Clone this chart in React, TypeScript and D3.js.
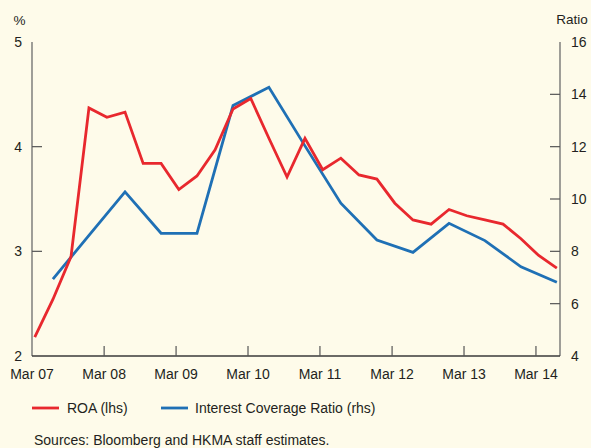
import React from "react";
import * as d3 from "d3";

// Quarterly ROA (%), Mar 07 .. Jun 14
const roaDates: string[] = [
  "2007-03", "2007-06", "2007-09", "2007-12",
  "2008-03", "2008-06", "2008-09", "2008-12",
  "2009-03", "2009-06", "2009-09", "2009-12",
  "2010-03", "2010-06", "2010-09", "2010-12",
  "2011-03", "2011-06", "2011-09", "2011-12",
  "2012-03", "2012-06", "2012-09", "2012-12",
  "2013-03", "2013-06", "2013-09", "2013-12",
  "2014-03", "2014-06",
];
const roaValues: number[] = [
  2.18, 2.54, 2.95, 4.37, 4.28, 4.33, 3.84, 3.84, 3.59, 3.72,
  3.97, 4.36, 4.46, 4.08, 3.71, 4.08, 3.78, 3.89, 3.73, 3.69,
  3.46, 3.30, 3.26, 3.40, 3.34, 3.30, 3.26, 3.12, 2.96, 2.84,
];

// Semi-annual interest coverage ratio, Jun 07 .. Jun 14
const icrDates: string[] = [
  "2007-06", "2007-12", "2008-06", "2008-12", "2009-06", "2009-12",
  "2010-06", "2010-12", "2011-06", "2011-12", "2012-06", "2012-12",
  "2013-06", "2013-12", "2014-06",
];
const icrValues: number[] = [
  6.94, 8.61, 10.27, 8.69, 8.69, 13.57, 14.27, 12.03, 9.84, 8.43,
  7.96, 9.07, 8.41, 7.41, 6.82,
];

const xTickDates: string[] = ["2007-03", "2008-03", "2009-03", "2010-03", "2011-03", "2012-03", "2013-03", "2014-03"];
const leftTicks: number[] = [2, 3, 4, 5];
const rightTicks: number[] = [4, 6, 8, 10, 12, 14, 16];

const seriesNames = ["ROA (lhs)", "Interest Coverage Ratio (rhs)"];
const leftUnit = "%";
const rightUnit = "Ratio";
const sourceText = "Sources: Bloomberg and HKMA staff estimates.";

const W = 591;
const H = 448;
const X0 = 32;
const X1 = 560;
const Y0 = 356;
const Y1 = 42;
const RED = "#E8282E";
const BLUE = "#1F70B5";
const TEXT = "#231F20";
const BG = "#FEFBEA";
const FONT = "'Liberation Sans', Arial, Helvetica, sans-serif";
const FS = 14;

const parseM = d3.utcParse("%Y-%m");
const mid = (s: string) => d3.utcDay.offset(parseM(s) as Date, 14);
const first = (s: string) => parseM(s) as Date;

export default function App() {
  const x = d3.scaleUtc().domain([first("2007-03"), first("2014-07")]).range([X0, X1]);
  const yL = d3.scaleLinear().domain([2, 5]).range([Y0, Y1]);
  const yR = d3.scaleLinear().domain([4, 16]).range([Y0, Y1]);

  const roa = roaDates.map((d, i) => ({ d: mid(d), v: roaValues[i] }));
  const icr = icrDates.map((d, i) => ({ d: mid(d), v: icrValues[i] }));

  const lineL = d3.line<{ d: Date; v: number }>().x((p) => x(p.d)).y((p) => yL(p.v));
  const lineR = d3.line<{ d: Date; v: number }>().x((p) => x(p.d)).y((p) => yR(p.v));
  const fmt = d3.utcFormat("%b %y");

  return (
    <svg
      width={W}
      height={H}
      style={{ position: "absolute", left: 0, top: 0, display: "block" }}
      fontFamily={FONT}
    >
      <rect width={W} height={H} fill={BG} />
      {/* axes */}
      <line x1={X0} x2={X0} y1={Y1} y2={Y0} stroke="#6b6b6b" strokeWidth={1.3} />
      <line x1={X1} x2={X1} y1={Y1} y2={Y0} stroke="#6b6b6b" strokeWidth={1.3} />
      <line x1={X0} x2={X1} y1={Y0} y2={Y0} stroke="#3a3a3a" strokeWidth={1.3} />
      {leftTicks.map((t) => (
        <g key={"l" + t}>
          {t !== 2 && t !== 5 && (
            <line x1={X0} x2={X0 + 10} y1={yL(t)} y2={yL(t)} stroke="#555" strokeWidth={1.2} />
          )}
          <text x={22} y={yL(t)} dy="0.36em" textAnchor="end" fontSize={FS} fill={TEXT}>
            {t}
          </text>
        </g>
      ))}
      {rightTicks.map((t) => (
        <g key={"r" + t}>
          {t !== 4 && t !== 16 && (
            <line x1={X1 - 10} x2={X1} y1={yR(t)} y2={yR(t)} stroke="#555" strokeWidth={1.2} />
          )}
          <text x={571} y={yR(t)} dy="0.36em" textAnchor="start" fontSize={FS} fill={TEXT}>
            {t}
          </text>
        </g>
      ))}
      {xTickDates.map((s) => (
        <g key={s}>
          {s !== "2007-03" && (
            <line x1={x(first(s))} x2={x(first(s))} y1={Y0 - 10} y2={Y0} stroke="#555" strokeWidth={1.2} />
          )}
          <text x={x(first(s))} y={379} textAnchor="middle" fontSize={FS} fill={TEXT}>
            {fmt(first(s))}
          </text>
        </g>
      ))}
      <text x={19.5} y={25} textAnchor="middle" fontSize={13.5} fill={TEXT}>{leftUnit}</text>
      <text x={572} y={24} textAnchor="middle" fontSize={13.5} fill={TEXT}>{rightUnit}</text>

      {/* series */}
      <path d={lineR(icr) || ""} fill="none" stroke={BLUE} strokeWidth={2.8} strokeLinejoin="miter" />
      <path d={lineL(roa) || ""} fill="none" stroke={RED} strokeWidth={2.8} strokeLinejoin="miter" />

      {/* legend */}
      <line x1={32} x2={59} y1={408} y2={408} stroke={RED} strokeWidth={2.8} />
      <text x={67} y={413} fontSize={FS} fill={TEXT}>{seriesNames[0]}</text>
      <line x1={161} x2={188} y1={408} y2={408} stroke={BLUE} strokeWidth={2.8} />
      <text x={195} y={413} fontSize={FS} fill={TEXT}>{seriesNames[1]}</text>

      <text x={34} y={445} fontSize={FS} fill={TEXT}>{sourceText}</text>
    </svg>
  );
}
